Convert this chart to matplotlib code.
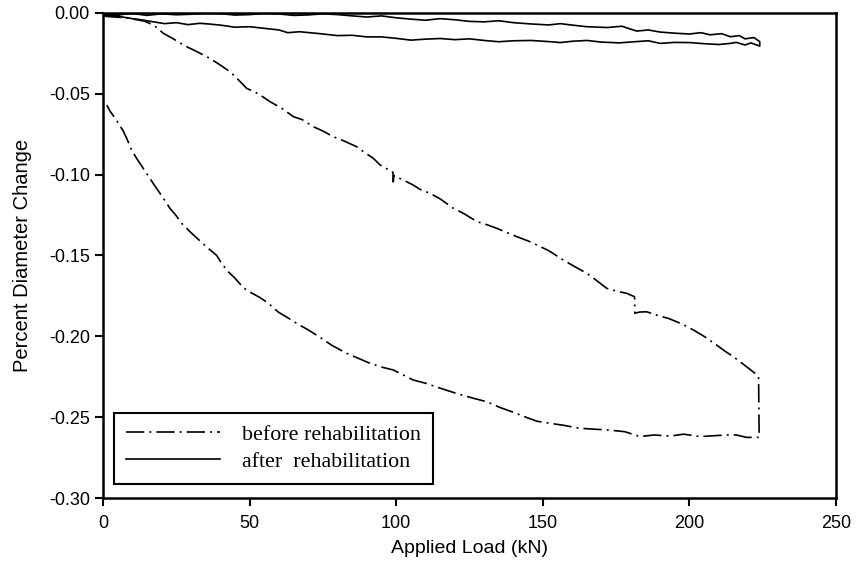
import matplotlib
matplotlib.use("Agg")
import matplotlib.pyplot as plt

plt.rcParams['axes.unicode_minus'] = False
plt.rcParams['font.family'] = ['Liberation Sans', 'DejaVu Sans']

# before rehabilitation: loading branch, then unloading branch (one loop)
before_load = [0, 8, 14, 17.2, 20.6, 24, 27.4, 31, 35.4, 39, 43.3, 46, 49, 53, 57, 61, 64.9, 68,
               71.7, 75, 78.5, 82, 86.5, 89, 92.2, 94.5, 98.9, 99.0, 99.2, 102, 105.8, 108, 111.5,
               115, 119.5, 123, 127.5, 131, 134.3, 138, 141.1, 145, 148, 152, 157, 161, 165, 168,
               171.8, 175, 178.6, 181.3, 181.4, 183, 185.4, 189, 193, 197, 201.3, 205, 209.3, 212,
               215, 219.5, 222.4, 223.6, 223.8,
               219.5, 216, 212.7, 208, 203.6, 198, 193.4, 188, 183.2, 178, 172.9, 168, 162.7, 157,
               152.5, 148, 144.5, 140, 135.4, 131, 126.3, 120, 114.9, 110, 105.8, 102, 99, 95, 91.1,
               87, 83.1, 78, 74, 70, 67, 63, 59.8, 56, 53.5, 50.5, 47.9, 45, 42.7, 40.5, 38.8, 35.5,
               32.5, 29.5, 26.8, 24.8, 22.9, 20, 17.7, 15.5, 13.7, 11.5, 9.8, 8.2, 6.9, 5.5, 4.1,
               2.5, 1.3]
before_diam = [-0.002, -0.003, -0.005, -0.0074, -0.0126, -0.016, -0.0198, -0.023, -0.027, -0.031,
               -0.0363, -0.041, -0.0466, -0.050, -0.0549, -0.059, -0.0641, -0.066, -0.0703, -0.073,
               -0.0765, -0.079, -0.0827, -0.086, -0.0899, -0.094, -0.0985, -0.1045, -0.1005, -0.103,
               -0.1064, -0.109, -0.1115, -0.115, -0.1208, -0.124, -0.129, -0.131, -0.1332, -0.136,
               -0.1383, -0.141, -0.1435, -0.147, -0.1528, -0.157, -0.161, -0.165, -0.1703, -0.172,
               -0.1734, -0.1755, -0.1857, -0.185, -0.1848, -0.187, -0.189, -0.192, -0.196, -0.200,
               -0.2054, -0.209, -0.2126, -0.2188, -0.2229, -0.225, -0.2625,
               -0.2625, -0.261, -0.261, -0.2615, -0.262, -0.2605, -0.2617, -0.261, -0.262, -0.259,
               -0.258, -0.2575, -0.2569, -0.255, -0.2538, -0.2525, -0.2502, -0.247, -0.244, -0.2405,
               -0.2383, -0.235, -0.232, -0.229, -0.227, -0.2235, -0.2208, -0.219, -0.2167, -0.2135,
               -0.2105, -0.2055, -0.2006, -0.196, -0.193, -0.1885, -0.185, -0.179, -0.176, -0.173,
               -0.170, -0.164, -0.160, -0.155, -0.150, -0.145, -0.140, -0.135, -0.130, -0.125,
               -0.121, -0.113, -0.107, -0.101, -0.096, -0.090, -0.085, -0.078, -0.073, -0.069,
               -0.065, -0.061, -0.057]

# after rehabilitation: upper branch out, lower branch back (one loop)
after_load = [0, 5, 10, 15, 20, 25, 30, 35, 40, 45, 50, 55, 60, 65, 70, 75, 80, 85, 90, 95, 100,
              105, 110, 115, 120, 125, 130, 135, 140, 146, 152, 156, 160, 165, 172, 177, 182, 186,
              190, 195, 200, 204, 207, 211, 214, 217, 219, 222, 224,
              224, 221, 219, 216, 214, 210, 205, 200, 195, 190, 186, 182, 176, 170, 165, 160, 156,
              152, 146, 140, 135, 130, 125, 120, 115, 110, 105, 100, 95, 90, 85, 80, 74, 67, 63, 60,
              55, 50, 45, 40, 36, 33, 29, 25, 21, 17, 13, 10, 5, 0]
after_diam = [-0.0005, -0.0012, -0.0003, -0.0015, -0.0005, -0.0011, -0.0008, -0.0002, -0.0004,
              -0.0013, -0.001, -0.0003, -0.0006, -0.0015, -0.0012, -0.0005, -0.001, -0.0018,
              -0.0025, -0.0018, -0.003, -0.0038, -0.0045, -0.0035, -0.0042, -0.0052, -0.0055,
              -0.0048, -0.006, -0.0068, -0.0074, -0.0066, -0.0075, -0.0085, -0.009, -0.0082,
              -0.0112, -0.0105, -0.0118, -0.0125, -0.013, -0.0122, -0.0135, -0.0128, -0.0147,
              -0.014, -0.016, -0.0152, -0.0177,
              -0.0205, -0.0185, -0.0198, -0.0182, -0.0188, -0.0195, -0.019, -0.0183, -0.0182,
              -0.0188, -0.0172, -0.0177, -0.0185, -0.018, -0.017, -0.0175, -0.0183, -0.0177,
              -0.017, -0.0172, -0.0178, -0.017, -0.016, -0.0165, -0.0158, -0.0162, -0.0168,
              -0.0157, -0.0148, -0.0148, -0.0138, -0.014, -0.0128, -0.0116, -0.0122, -0.0105,
              -0.0095, -0.0085, -0.0088, -0.0075, -0.0068, -0.0064, -0.0072, -0.006, -0.0066,
              -0.0054, -0.0042, -0.0035, -0.002, -0.0012]

x_ticks = [0, 50, 100, 150, 200, 250]
y_ticks = [0.00, -0.05, -0.10, -0.15, -0.20, -0.25, -0.30]

fig = plt.figure(figsize=(8.59, 5.64), dpi=100)
ax = fig.add_axes([0.1199, 0.117, 0.8533, 0.860])

ax.plot(before_load, before_diam, color='black', lw=1.2,
        linestyle=(0, (11, 3, 1.2, 3)), label='before rehabilitation')
ax.plot(after_load, after_diam, color='black', lw=1.2, linestyle='-',
        label='after  rehabilitation')

ax.set_xlim(0, 250)
ax.set_ylim(-0.30, 0.00)
ax.set_xticks(x_ticks)
ax.set_yticks(y_ticks)
ax.set_xticklabels([str(v) for v in x_ticks])
ax.set_yticklabels([f"{v:.2f}".replace("-0.00", "0.00") for v in y_ticks])
ax.tick_params(direction='out', length=6, width=1.5, labelsize=13, colors='black')
ax.tick_params(axis='x', pad=6)
for s in ax.spines.values():
    s.set_linewidth(1.8)
    s.set_color('black')

ax.set_xlabel('Applied Load (kN)', fontsize=14, labelpad=6)
ax.set_ylabel('Percent Diameter Change', fontsize=14.5, labelpad=12)

leg = ax.legend(loc='lower left', bbox_to_anchor=(0.015, 0.029), borderaxespad=0,
                prop={'family': 'Liberation Serif', 'size': 15.8}, handlelength=4.3,
                handletextpad=1.0, labelspacing=0.3, borderpad=0.55, fancybox=False,
                frameon=True, edgecolor='black', framealpha=1)
leg.get_frame().set_linewidth(1.5)

fig.savefig('out.png', dpi=100)
